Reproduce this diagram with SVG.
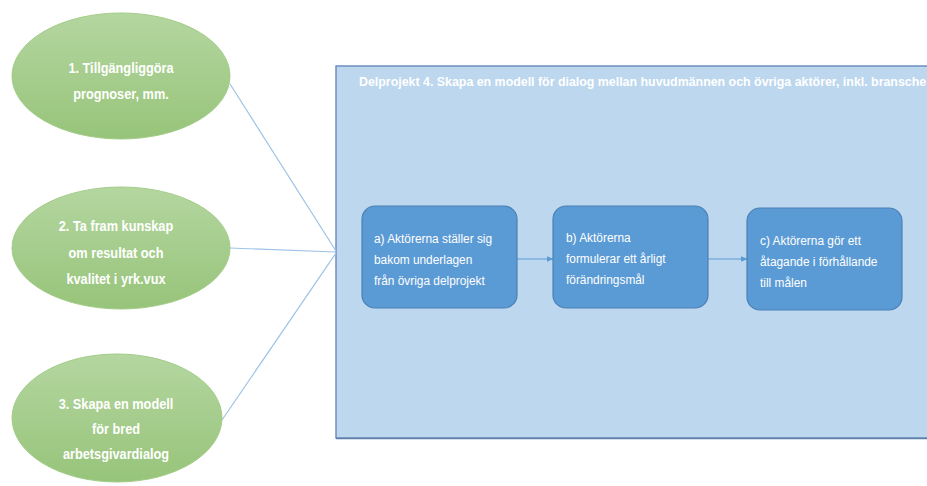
<svg xmlns="http://www.w3.org/2000/svg" width="927" height="486" viewBox="0 0 927 486">
<defs>
<linearGradient id="g" x1="0" y1="0" x2="0" y2="1">
<stop offset="0" stop-color="#B4D6A0"/>
<stop offset="1" stop-color="#97C47A"/>
</linearGradient>
<marker id="ah" viewBox="0 0 10 10" refX="9" refY="5" markerWidth="7" markerHeight="7" orient="auto" markerUnits="userSpaceOnUse">
<path d="M0,1 L10,5 L0,9 z" fill="#5B9BD5"/>
</marker>
<style>
.ell{fill:url(#g);stroke:#A3CC88;stroke-width:1}
.et{font-family:"Liberation Sans",Arial,sans-serif;font-weight:bold;font-size:15px;fill:#fff;text-anchor:middle}
.box{fill:#5B9BD5;stroke:#4A80B5;stroke-width:1.2}
.bt{font-family:"Liberation Sans",Arial,sans-serif;font-size:13.5px;fill:#fff}
.con{stroke:#9DC3E6;stroke-width:1.2;fill:none}
.arr{stroke:#5B9BD5;stroke-width:1.2;fill:none}
</style>
</defs>
<rect width="927" height="486" fill="#fff"/>
<g id="delprojekt4">
<rect x="336" y="66" width="600" height="372" fill="#BDD7EE" stroke="#6D90BE" stroke-width="1.5"/>
<line x1="336" y1="438.5" x2="927" y2="438.5" stroke="#5E7FAA" stroke-width="1.5"/>
<text x="359" y="86" font-family="'Liberation Sans',Arial,sans-serif" font-weight="bold" font-size="12" fill="#fff" textLength="572" lengthAdjust="spacingAndGlyphs">Delprojekt 4. Skapa en modell för dialog mellan huvudmännen och övriga aktörer, inkl. branscher</text>
</g>
<g id="connectors">
<line class="con" x1="230" y1="84" x2="336" y2="251"/>
<line class="con" x1="230" y1="248" x2="336" y2="252"/>
<line class="con" x1="222" y1="420" x2="336" y2="253"/>
<line class="arr" x1="517" y1="259" x2="553" y2="259" marker-end="url(#ah)"/>
<line class="arr" x1="708" y1="259" x2="747" y2="259" marker-end="url(#ah)"/>
</g>
<g id="n1">
<ellipse class="ell" cx="121" cy="76" rx="109" ry="63"/>
<g transform="translate(121,0) scale(0.85,1)">
<text class="et" x="0" y="73">1. Tillgängliggöra</text>
<text class="et" x="0" y="99">prognoser,  mm.</text>
</g>
</g>
<g id="n2">
<ellipse class="ell" cx="121" cy="248" rx="109" ry="61"/>
<g transform="translate(116,0) scale(0.85,1)">
<text class="et" x="0" y="231">2. Ta fram kunskap</text>
<text class="et" x="0" y="258">om resultat och</text>
<text class="et" x="0" y="284">kvalitet i yrk.vux</text>
</g>
</g>
<g id="n3">
<ellipse class="ell" cx="117" cy="418" rx="105" ry="64"/>
<g transform="translate(116,0) scale(0.85,1)">
<text class="et" x="0" y="409">3. Skapa  en modell</text>
<text class="et" x="0" y="434">för bred</text>
<text class="et" x="0" y="459">arbetsgivardialog</text>
</g>
</g>
<g id="a">
<rect class="box" x="362" y="206" width="155" height="102" rx="13"/>
<g transform="translate(374,0) scale(0.88,1)">
<text class="bt" x="0" y="243">a) Aktörerna ställer sig</text>
<text class="bt" x="0" y="264">bakom underlagen</text>
<text class="bt" x="0" y="285">från övriga delprojekt</text>
</g>
</g>
<g id="b">
<rect class="box" x="553" y="206" width="155" height="102" rx="13"/>
<g transform="translate(566,0) scale(0.88,1)">
<text class="bt" x="0" y="242">b) Aktörerna</text>
<text class="bt" x="0" y="263">formulerar ett årligt</text>
<text class="bt" x="0" y="284">förändringsmål</text>
</g>
</g>
<g id="c">
<rect class="box" x="747" y="208" width="155" height="102" rx="13"/>
<g transform="translate(760,0) scale(0.88,1)">
<text class="bt" x="0" y="245">c) Aktörerna gör ett</text>
<text class="bt" x="0" y="266">åtagande i förhållande</text>
<text class="bt" x="0" y="287">till målen</text>
</g>
</g>
</svg>
